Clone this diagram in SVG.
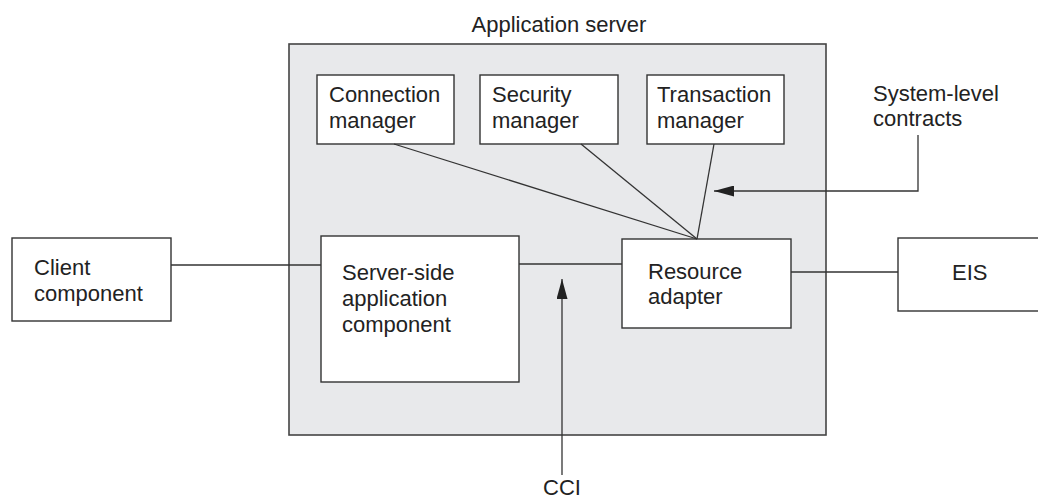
<svg xmlns="http://www.w3.org/2000/svg" width="1038" height="500" viewBox="0 0 1038 500">
  <style>
    .box { fill: #ffffff; stroke: #333333; stroke-width: 1.4; }
    .server { fill: #e8e9eb; stroke: #444444; stroke-width: 1.6; }
    .lbl { font-family: "Liberation Sans", Arial, sans-serif; font-size: 22px; fill: #222222; }
    .conn { fill: none; stroke: #333333; stroke-width: 1.3; }
  </style>
  <defs>
    <marker id="arrow" markerWidth="20" markerHeight="11" refX="20" refY="5.5" orient="auto" markerUnits="userSpaceOnUse">
      <path d="M0,0 L20,5.5 L0,11 Z" fill="#222222"/>
    </marker>
  </defs>
  <rect width="1038" height="500" fill="#ffffff"/>

  <g id="application-server">
    <rect class="server" x="289" y="44" width="537" height="391"/>
    <text class="lbl" x="559" y="32" text-anchor="middle">Application server</text>
  </g>

  <g id="connection-manager">
    <rect class="box" x="317" y="75" width="137" height="69"/>
    <text class="lbl" x="329" y="102">Connection</text>
    <text class="lbl" x="329" y="128">manager</text>
  </g>

  <g id="security-manager">
    <rect class="box" x="480" y="75" width="138" height="69"/>
    <text class="lbl" x="492" y="102">Security</text>
    <text class="lbl" x="492" y="128">manager</text>
  </g>

  <g id="transaction-manager">
    <rect class="box" x="647" y="75" width="137" height="69"/>
    <text class="lbl" x="657" y="102">Transaction</text>
    <text class="lbl" x="657" y="128">manager</text>
  </g>

  <g id="client-component">
    <rect class="box" x="12" y="238" width="159" height="83"/>
    <text class="lbl" x="34" y="275">Client</text>
    <text class="lbl" x="34" y="301">component</text>
  </g>

  <g id="server-side-component">
    <rect class="box" x="321" y="236" width="198" height="146"/>
    <text class="lbl" x="342" y="280">Server-side</text>
    <text class="lbl" x="342" y="306">application</text>
    <text class="lbl" x="342" y="332">component</text>
  </g>

  <g id="resource-adapter">
    <rect class="box" x="622" y="239" width="169" height="89"/>
    <text class="lbl" x="648" y="279">Resource</text>
    <text class="lbl" x="648" y="304">adapter</text>
  </g>

  <g id="eis">
    <rect class="box" x="898" y="238" width="150" height="73"/>
    <text class="lbl" x="952" y="280">EIS</text>
  </g>

  <g id="system-level-contracts">
    <text class="lbl" x="873" y="101">System-level</text>
    <text class="lbl" x="873" y="126">contracts</text>
  </g>

  <g id="cci">
    <text class="lbl" x="562" y="495" text-anchor="middle">CCI</text>
  </g>

  <g id="connectors">
    <line class="conn" x1="171" y1="265" x2="321" y2="265"/>
    <line class="conn" x1="519" y1="264" x2="622" y2="264"/>
    <line class="conn" x1="791" y1="272" x2="898" y2="272"/>
    <line class="conn" x1="394" y1="144" x2="697" y2="239"/>
    <line class="conn" x1="581" y1="144" x2="697" y2="239"/>
    <line class="conn" x1="714" y1="144" x2="697" y2="239"/>
    <polyline class="conn" points="918,135 918,191 714,191" marker-end="url(#arrow)"/>
    <line class="conn" x1="562" y1="475" x2="562" y2="279" marker-end="url(#arrow)"/>
  </g>
</svg>
